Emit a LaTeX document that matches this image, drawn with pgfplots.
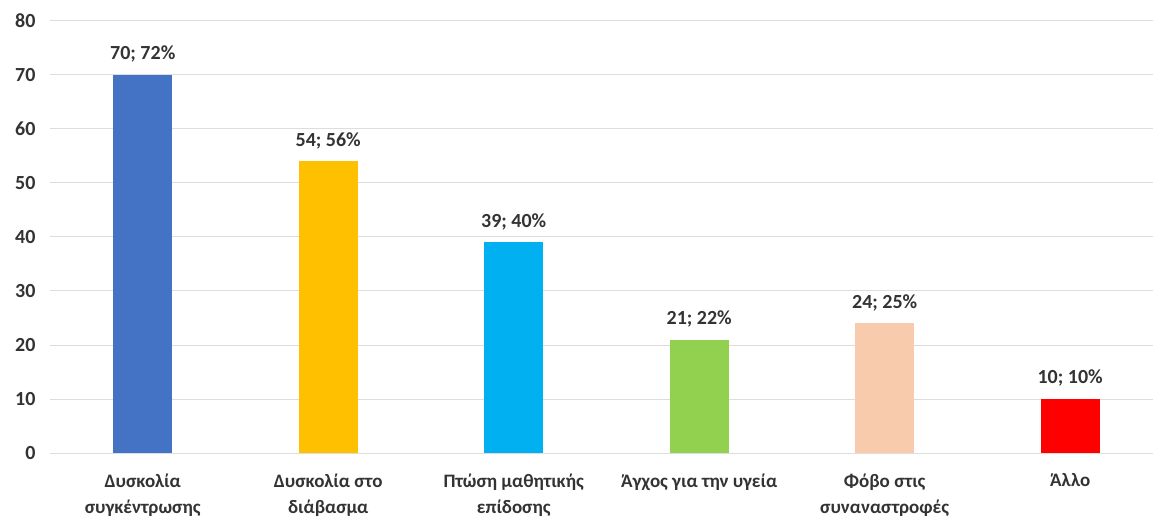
\documentclass[border=0pt]{standalone}
\usepackage{fontspec}
\setmainfont{Carlito}
\usepackage{pgfplots}
\pgfplotsset{compat=1.18}
\definecolor{c1}{HTML}{4472C4}
\definecolor{c2}{HTML}{FFC000}
\definecolor{c3}{HTML}{00B0F0}
\definecolor{c4}{HTML}{92D050}
\definecolor{c5}{HTML}{F8CBAD}
\definecolor{c6}{HTML}{FF0000}
\definecolor{gridc}{HTML}{DDDDDD}
\definecolor{txt}{HTML}{333333}
\newcommand{\semi}{;}
\begin{document}
\begin{tikzpicture}
\path[use as bounding box] (-50pt,-66pt) rectangle (1103pt,453pt);
\begin{axis}[
  scale only axis, width=1113pt, height=432pt,
  xmin=-0.5, xmax=5.5, ymin=0, ymax=80,
  ytick={0,10,...,80},
  xtick={0,1,2,3,4,5},
  xticklabels={{Δυσκολία\\συγκέντρωσης},{Δυσκολία στο\\διάβασμα},{Πτώση μαθητικής\\επίδοσης},{Άγχος για την υγεία},{Φόβο στις\\συναναστροφές},{Άλλο}},
  xticklabel style={align=center, font=\fontsize{19}{26}\selectfont\bfseries, text=txt, anchor=north, yshift=-17pt},
  yticklabel style={font=\fontsize{20}{24}\selectfont\bfseries, text=txt, xshift=-11pt},
  /pgf/number format/assume math mode=true,
  major tick length=0pt,
  ymajorgrids, grid style={gridc, line width=1pt},
  axis lines*=left,
  y axis line style={draw=none},
  x axis line style={gridc, line width=1pt},
  ybar, bar width=59pt, bar shift=0pt,
  nodes near coords, point meta=explicit symbolic,
  nodes near coords style={font=\fontsize{20}{24}\selectfont\bfseries, text=txt, yshift=9pt},
  clip=false,
]
\addplot[fill=c1, draw=none] coordinates {(0,70) [{70\semi{} 72\%}]};
\addplot[fill=c2, draw=none] coordinates {(1,54) [{54\semi{} 56\%}]};
\addplot[fill=c3, draw=none] coordinates {(2,39) [{39\semi{} 40\%}]};
\addplot[fill=c4, draw=none] coordinates {(3,21) [{21\semi{} 22\%}]};
\addplot[fill=c5, draw=none] coordinates {(4,24) [{24\semi{} 25\%}]};
\addplot[fill=c6, draw=none] coordinates {(5,10) [{10\semi{} 10\%}]};
\end{axis}
\end{tikzpicture}
\end{document}
